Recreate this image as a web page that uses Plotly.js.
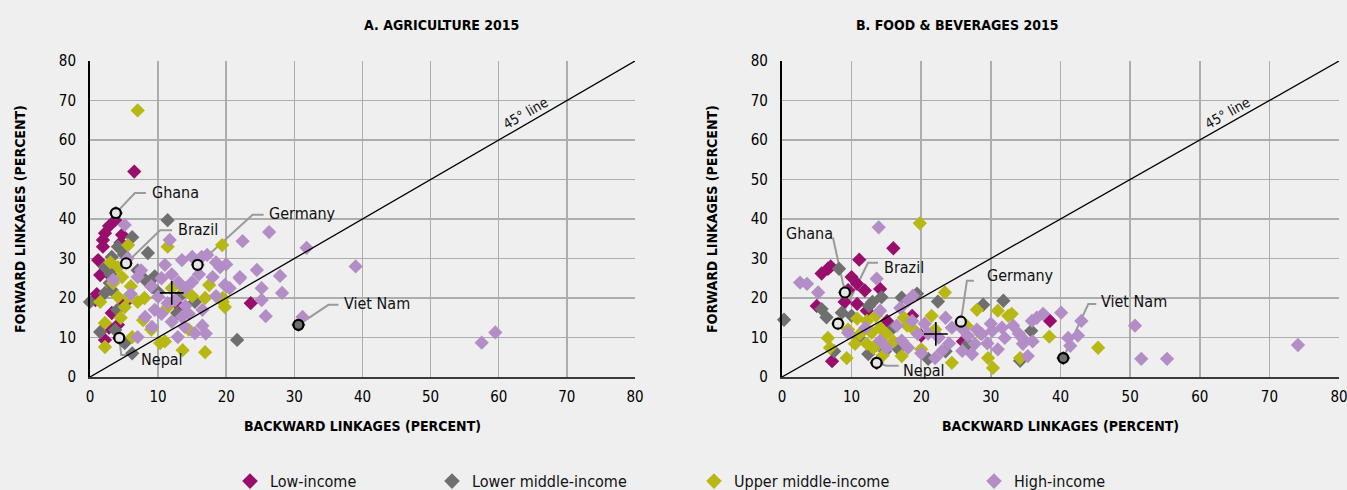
<!DOCTYPE html>
<html>
<head>
<meta charset="utf-8">
<script src="https://cdn.plot.ly/plotly-3.0.1.min.js"></script>
<style>html,body{margin:0;padding:0;background:#efefef;}#chart{width:1347px;height:490px;}</style>
</head>
<body>
<div id="chart"></div>
<script>
// ---------- DATA ----------
const groups = ["Low-income", "Lower middle-income", "Upper middle-income", "High-income"];
const colors = ["#990e6c", "#6f6f6f", "#b8b814", "#b38dc6"];

// Panel A: Agriculture 2015 (backward x, forward y)
const agLowX = [6.5,2.8,3.7,2.2,1.9,1.9,1.2,1.5,1.2,3.2,4.1,2.2,5.1,4.7,0.8,2.5,3.5,13.2,23.6,4.5,1.0,2.8,4.3];
const agLowY = [52,38.2,39.7,36.4,34.7,33,29.6,25.8,20.3,16.2,13.2,9.4,18.7,36,19.5,26.5,28,17.7,18.7,34,21,12.5,9.9];
const agLmX = [11.4,6.2,4.1,3.2,2.2,8.5,8.1,9.1,0,2.2,3.2,1.5,3.7,12.8,6.2,5.1,15.4,2.9,21.6,30.6,3.8,5,7,3,9.5,13.5,4,10];
const agLmY = [39.7,35.4,33,30.4,27.8,31.4,24.6,22.8,19,21.3,22,11.4,11.9,16.2,6,8.6,19,23.8,9.4,13.2,41.5,31,27,26,25.5,21,17,21.5];
const agUmX = [7,5.6,11.4,4.1,4.7,4.1,5.6,2.2,2.2,6.2,7.8,10.3,13.6,11.4,13.9,5.1,3.4,19.4,17.5,16.9,19.5,19.8,16.9,5.3,3,6,4.5,9,12,15,1.5,11,14.5,7,19.5,8];
const agUmY = [67.5,33.4,33,27.8,25.3,20.3,20.3,13.7,7.6,10.1,14.4,8.6,6.8,17.7,22,17.7,23.8,33.4,23.3,20,20,17.7,6.3,28.8,29,23,15,12,22.5,20.5,19,9,12,19,19,20];
const agHiX = [5.1,11.7,11,13.5,15,7,3.4,10,9.5,8.1,11.4,13.5,13.9,12.9,7,15.4,16.4,9.1,26.3,22.4,31.8,27.9,24.5,22,25.2,28.2,25.2,25.8,31.2,19.1,17.2,18,19.8,39,57.5,59.5,15.8,20,18.5,16,15,20.5,12,14,13,16.5,17,14.5,12,10.5,18.5,22,5.5,7.5,9,10.5,12.5,16.5,14,6];
const agHiY = [38.5,34.7,28.4,29.6,30.4,25.3,24.6,20.3,17,15.2,18.7,15.2,12.7,10.1,10.1,11.1,30.4,12.7,36.7,34.4,32.7,25.6,27.1,25.3,22.5,21.3,19.5,15.4,15.2,27.8,30.9,25.3,23.3,28,8.7,11.3,28.4,28.5,29,26,24,22.5,26,22.5,24,13,11,16,14,16,20.5,25,30,27,23,25,19.5,17,18,21];

// Panel B: Food & beverages 2015
const fbLowX = [16,11.1,6.6,5.7,10,10.8,11.9,14.1,10.8,12.2,15.1,7.2,5,38.5,18.7,7,9.5,13.6,9,20,26];
const fbLowY = [32.6,29.7,27.4,26.2,25.3,23.6,21.9,22.3,18.5,16.8,14.2,4,18,14.2,15.5,28,22,3.6,19,10.5,9];
const fbLmX = [0.3,8.2,5.7,6.4,8.6,10,14.3,12.4,17.2,19.4,22.4,28.9,31.8,21,26.7,16.7,35.8,34.2,40.4,9.05,13,12.5,7.5,14.8,11,23.5,16,13.5];
const fbLmY = [14.5,27.4,17.2,15.1,16.3,15.5,20.2,5.8,20.1,21.1,19.1,18.3,19.3,4.6,8.4,7.1,11.7,4.1,4.8,21.4,19,18,6.5,6.5,10,6.5,12.5,8];
const fbUmX = [19.8,6.6,6.9,9.3,10.5,11.2,10.8,12.2,12.9,12.2,14.1,15,13.1,23.4,28,31,32.5,24.4,29.6,30.3,17.2,19.1,38.4,34.2,45.4,33,8.05,14.5,16,18,20,22,26.5,9.5,17.5,21.5,13.5,28.5];
const fbUmY = [38.9,9.9,7.4,4.8,8.4,10.9,14.8,14.2,11.2,8.4,12.5,10.9,7.4,21.4,17,16.8,15.5,3.6,4.8,2.3,5.3,11.7,10.2,4.8,7.4,16,13.5,5.5,9,13,7,12,13,12,15,15.5,15.5,11];
const fbHiX = [13.9,3.6,5.2,2.6,13.6,9.5,14.1,14.1,15,18.1,18.8,18.7,20.5,19.5,24.4,26.7,27.7,28.7,30.2,31.6,32,27.3,25.9,23,22,18.1,17.2,40.1,36.6,35.9,43,41.1,41.4,34.5,34.6,35.3,50.7,51.6,55.3,74.1,33.2,25.7,22.5,24,21,29.5,31,26,37.5,34,30,23.5,16.5,20,17,28,42.5,36,12];
const fbHiY = [37.9,23.6,21.4,23.9,24.9,11.2,16.8,9.2,7.4,19.3,20.6,14.2,13.5,10.9,12.5,10.4,8.4,10.9,11.7,12.5,9.9,5.8,6.6,6.6,4.8,7.4,9.2,16.3,15,14.2,14.2,9.9,7.9,9.9,8.4,5.3,13,4.6,4.6,8.1,13,14,10,8.5,11,8.5,7,12,16,11,13.5,15,13,6,17.5,12,10.5,9,12.5];

// Highlighted economies
const countries = ["Ghana", "Brazil", "Germany", "Nepal", "Viet Nam"];
const agCountryX = [3.8, 5.3, 15.8, 4.3, 30.6];
const agCountryY = [41.5, 28.8, 28.4, 9.9, 13.2];
const fbCountryX = [9.05, 8.05, 25.7, 13.6, 40.4];
const fbCountryY = [21.4, 13.5, 14.0, 3.6, 4.8];

// Group averages (cross)
const agMean = [12.0, 21.3];
const fbMean = [22.1, 10.9];

const diag = [0, 80];
const tickVals = [0,10,20,30,40,50,60,70,80];

// ---------- BUILD ----------
const FONT = "DejaVu Sans Condensed, Liberation Sans Narrow, sans-serif";
const ringFill = ["#e6e6e6", "#e6e6e6", "#e6e6e6", "#e6e6e6", "#6f6f6f"];
const traces = [];
const panelData = [
  [[agLowX,agLowY],[agLmX,agLmY],[agUmX,agUmY],[agHiX,agHiY]],
  [[fbLowX,fbLowY],[fbLmX,fbLmY],[fbUmX,fbUmY],[fbHiX,fbHiY]]
];
const axes = [["x","y"],["x2","y2"]];
panelData.forEach((pd, p) => {
  pd.forEach((g, i) => {
    traces.push({
      type: "scatter", mode: "markers",
      x: g[0], y: g[1], xaxis: axes[p][0], yaxis: axes[p][1],
      name: groups[i], showlegend: p === 0,
      legend: i === 0 ? "legend" : "legend" + (i + 1),
      marker: {symbol: "diamond", size: 11, color: colors[i], line: {width: 0}},
      cliponaxis: false, hoverinfo: "x+y+name"
    });
  });
});
// diagonal 45° lines
[0,1].forEach(p => traces.push({
  type: "scatter", mode: "lines", x: diag, y: diag, xaxis: axes[p][0], yaxis: axes[p][1],
  line: {color: "#000", width: 1.3}, showlegend: false, hoverinfo: "skip"
}));
// country circles
traces.push({type:"scatter", mode:"markers", x: agCountryX, y: agCountryY, text: countries, showlegend:false,
  marker:{symbol:"circle", size:10, color:ringFill, line:{width:2.2, color:"#000"}}, cliponaxis:false});
traces.push({type:"scatter", mode:"markers", x: fbCountryX, y: fbCountryY, text: countries, xaxis:"x2", yaxis:"y2", showlegend:false,
  marker:{symbol:"circle", size:10, color:ringFill, line:{width:2.2, color:"#000"}}, cliponaxis:false});
// means
traces.push({type:"scatter", mode:"markers", x:[agMean[0]], y:[agMean[1]], showlegend:false,
  marker:{symbol:"cross-thin-open", size:17, color:"#000", line:{width:1.6, color:"#000"}}});
traces.push({type:"scatter", mode:"markers", x:[fbMean[0]], y:[fbMean[1]], xaxis:"x2", yaxis:"y2", showlegend:false,
  marker:{symbol:"cross-thin-open", size:17, color:"#000", line:{width:1.6, color:"#000"}}});

// label geometry (pixel offsets from each circle)
const agLabel = [
  {path:"M0,0 L19,20 L30,20", dx:34, dy:21, anchor:"left"},
  {path:"M0,0 L34,33 L46,33", dx:50, dy:34, anchor:"left"},
  {path:"M0,0 L55,50 L66,50", dx:69, dy:51, anchor:"left"},
  {path:"M0,0 L2,-17 L17,-17", dx:20, dy:-22, anchor:"left"},
  {path:"M0,0 L30,20 L40,20", dx:44, dy:21, anchor:"left"}
];
const fbLabel = [
  {path:"M0,0 L-12,55", dx:-35, dy:59, anchor:"center"},
  {path:"M0,0 L30,61 L40,61", dx:44, dy:56, anchor:"left"},
  {path:"M0,0 L6,41 L13,41", dx:24, dy:46, anchor:"left"},
  {path:"M0,0 L10,-3 L22,-3", dx:24, dy:-8, anchor:"left"},
  {path:"M0,0 L25,54 L33,54", dx:36, dy:57, anchor:"left"}
];

const shapes = [];
const annotations = [];
function addLabels(cx, cy, geom, xr, yr) {
  countries.forEach((c, i) => {
    shapes.push({type:"path", xref:xr, yref:yr, xsizemode:"pixel", ysizemode:"pixel",
      xanchor: cx[i], yanchor: cy[i], path: geom[i].path, layer:"between",
      line:{color:"#9a9a9a", width:2}});
    annotations.push({xref:xr, yref:yr, x:cx[i], y:cy[i], text:c, showarrow:false,
      xanchor: geom[i].anchor, yanchor:"middle", xshift: geom[i].dx, yshift: geom[i].dy,
      font:{family:FONT, size:16, color:"#111"}});
  });
}
addLabels(agCountryX, agCountryY, agLabel, "x", "y");
addLabels(fbCountryX, fbCountryY, fbLabel, "x2", "y2");

// 45° line labels
annotations.push({xref:"x", yref:"y", x:64.5, y:64.5, text:"45° line", showarrow:false, textangle:-30,
  yshift:9, xshift:-4, font:{family:FONT, size:14, color:"#111"}});
annotations.push({xref:"x2", yref:"y2", x:64.5, y:64.5, text:"45° line", showarrow:false, textangle:-29.5,
  yshift:9, xshift:-4, font:{family:FONT, size:14, color:"#111"}});

// panel titles
annotations.push({xref:"paper", yref:"paper", x:0.2691, y:0.949, yanchor:"middle", text:"<b>A. AGRICULTURE 2015</b>", showarrow:false,
  font:{family:FONT, size:14, color:"#000"}});
annotations.push({xref:"paper", yref:"paper", x:0.7873, y:0.949, yanchor:"middle", text:"<b>B. FOOD &amp; BEVERAGES 2015</b>", showarrow:false,
  font:{family:FONT, size:14, color:"#000"}});

function xaxisDef(domain, anchor) {
  return {domain: domain, anchor: anchor, range:[0,80], tickvals: tickVals, ticks:"",
    showgrid:true, gridcolor:"#adadad", gridwidth:1.5, zeroline:false,
    showline:true, linecolor:"#3a3a3a", linewidth:2, ticklabeloverflow:"allow",
    tickfont:{family:FONT, size:15, color:"#000"}, ticklabelstandoff:5,
    title:{text:"<b>BACKWARD LINKAGES (PERCENT)</b>", standoff:16, font:{family:FONT, size:14, color:"#000"}}};
}
function yaxisDef(anchor) {
  return {domain:[0.2306, 0.8755], anchor: anchor, range:[0,80], tickvals: tickVals, ticks:"",
    showgrid:true, gridcolor:"#adadad", gridwidth:1.5, zeroline:false,
    showline:true, linecolor:"#000", linewidth:2,
    tickfont:{family:FONT, size:15, color:"#000"}, ticklabelstandoff:9,
    title:{text:"<b>FORWARD LINKAGES (PERCENT)</b>", standoff:30, font:{family:FONT, size:14, color:"#000"}}};
}

const legendBase = {orientation:"h", yanchor:"middle", y:0.018, xanchor:"left", bgcolor:"rgba(0,0,0,0)",
  font:{family:FONT, size:16, color:"#111"}, itemsizing:"constant", itemwidth:30};
const legX = [230/1347, 432/1347, 694/1347, 974/1347];

const layout = {
  width:1347, height:490,
  paper_bgcolor:"#efefef", plot_bgcolor:"#efefef",
  margin:{l:0, r:0, t:0, b:0, autoexpand:false},
  showlegend:true,
  xaxis: xaxisDef([0.0668, 0.4714], "y"),
  yaxis: yaxisDef("x"),
  xaxis2: xaxisDef([0.5805, 0.9941], "y2"),
  yaxis2: yaxisDef("x2"),
  legend: Object.assign({}, legendBase, {x: legX[0]}),
  legend2: Object.assign({}, legendBase, {x: legX[1]}),
  legend3: Object.assign({}, legendBase, {x: legX[2]}),
  legend4: Object.assign({}, legendBase, {x: legX[3]}),
  shapes: shapes,
  annotations: annotations
};

Plotly.newPlot("chart", traces, layout, {displayModeBar:false, staticPlot:true});
</script>
</body>
</html>
